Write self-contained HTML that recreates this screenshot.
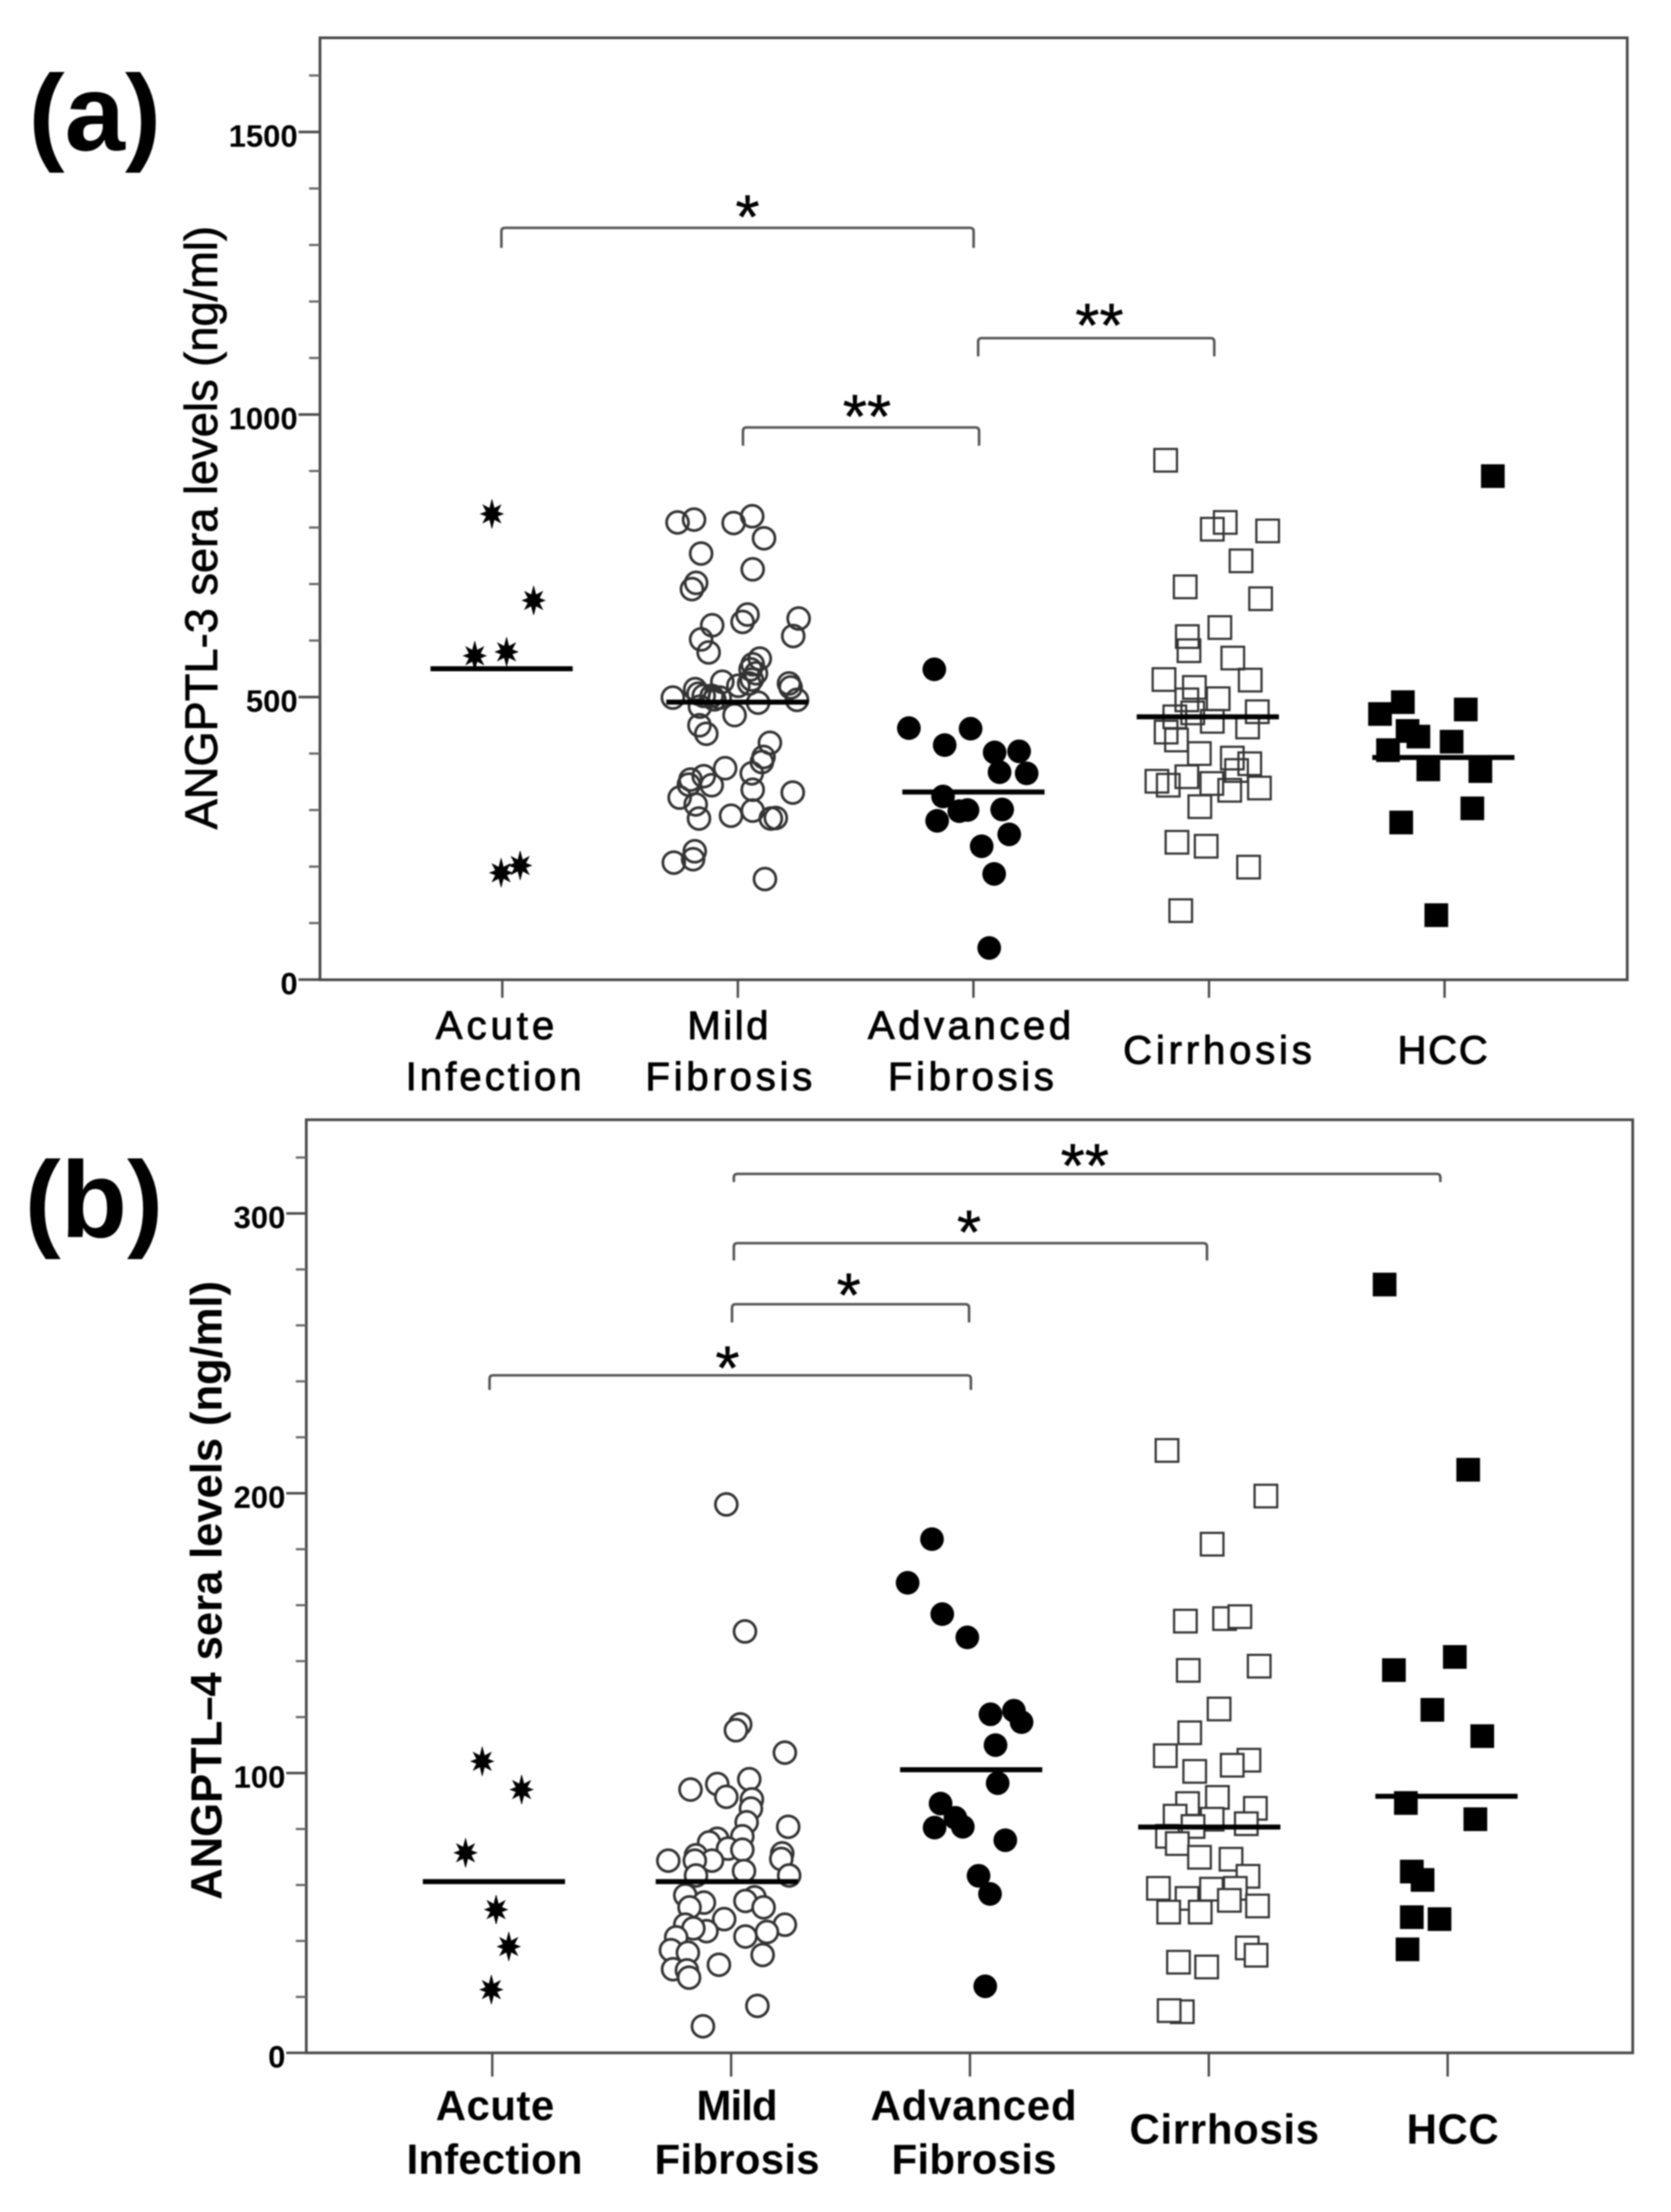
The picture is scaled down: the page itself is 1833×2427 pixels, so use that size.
<!DOCTYPE html>
<html lang="en">
<head>
<meta charset="utf-8">
<title>ANGPTL-3 and ANGPTL-4 sera levels</title>
<style>
html,body{margin:0;padding:0;background:#fff;width:1833px;height:2427px;overflow:hidden}
svg{display:block;filter:blur(0.8px)}
text{font-family:"Liberation Sans",Arial,sans-serif;fill:#000}
.frame{fill:none;stroke:#4a4a4a;stroke-width:3}
.br{fill:none;stroke:#555;stroke-width:2.8}
.cat-a{font-size:44px;text-anchor:start;stroke:#000;stroke-width:1}
.cat-b{font-size:46px;font-weight:bold;text-anchor:start}
.sig{font-size:68px;text-anchor:middle;stroke:#000;stroke-width:.5}
.panel{font-size:119px;font-weight:bold;text-anchor:middle}
</style>
</head>
<body>
<svg id="chart" xmlns="http://www.w3.org/2000/svg" width="1833" height="2427" viewBox="0 0 1833 2427">
  <rect x="0" y="0" width="1833" height="2427" fill="#fff"/>

  <!-- Panel a static -->
  <text class="panel" x="104" y="165">(a)</text>
  <rect class="frame" x="351" y="41.5" width="1434" height="1033.5"/>
  <text transform="translate(238,579) rotate(-90)" text-anchor="middle" font-size="49.6" stroke="#000" stroke-width=".8" textLength="662" lengthAdjust="spacing">ANGPTL-3 sera levels (ng/ml)</text>
  <g>
    <text class="cat-a" x="478" y="1140" textLength="130" lengthAdjust="spacing">Acute</text>
    <text class="cat-a" x="445" y="1196" textLength="193" lengthAdjust="spacing">Infection</text>
    <text class="cat-a" x="754" y="1140" textLength="89" lengthAdjust="spacing">Mild</text>
    <text class="cat-a" x="708" y="1196" textLength="183" lengthAdjust="spacing">Fibrosis</text>
    <text class="cat-a" x="952" y="1140" textLength="223" lengthAdjust="spacing">Advanced</text>
    <text class="cat-a" x="974" y="1196" textLength="182" lengthAdjust="spacing">Fibrosis</text>
    <text class="cat-a" x="1232" y="1167" textLength="207" lengthAdjust="spacing">Cirrhosis</text>
    <text class="cat-a" x="1533" y="1167" textLength="99" lengthAdjust="spacing">HCC</text>
  </g>
  <g>
    <path class="br" d="M550 272V254Q550 250 554 250H1064Q1068 250 1068 254V272"/>
    <text class="sig" x="820" y="261">*</text>
    <path class="br" d="M815 489V473Q815 469 819 469H1070Q1074 469 1074 473V489"/>
    <text class="sig" x="951" y="480">**</text>
    <path class="br" d="M1073 391V375Q1073 371 1077 371H1328Q1332 371 1332 375V391"/>
    <text class="sig" x="1206" y="380">**</text>
  </g>

  <!-- Panel b static -->
  <text class="panel" x="103" y="1357">(b)</text>
  <rect class="frame" x="336" y="1228.6" width="1455" height="1023.8"/>
  <text transform="translate(243,1745) rotate(-90)" text-anchor="middle" font-size="48" font-weight="bold" textLength="679" lengthAdjust="spacing">ANGPTL–4 sera levels (ng/ml)</text>
  <g>
    <text class="cat-b" x="478" y="2326" textLength="130" lengthAdjust="spacing">Acute</text>
    <text class="cat-b" x="446" y="2385" textLength="193" lengthAdjust="spacing">Infection</text>
    <text class="cat-b" x="764" y="2326" textLength="89" lengthAdjust="spacing">Mild</text>
    <text class="cat-b" x="718" y="2385" textLength="181" lengthAdjust="spacing">Fibrosis</text>
    <text class="cat-b" x="955" y="2326" textLength="226" lengthAdjust="spacing">Advanced</text>
    <text class="cat-b" x="978" y="2385" textLength="181" lengthAdjust="spacing">Fibrosis</text>
    <text class="cat-b" x="1239" y="2352" textLength="208" lengthAdjust="spacing">Cirrhosis</text>
    <text class="cat-b" x="1543" y="2352" textLength="101" lengthAdjust="spacing">HCC</text>
  </g>
  <g>
    <path class="br" d="M805 1297V1292Q805 1288 809 1288H1576Q1580 1288 1580 1292V1297"/>
    <text class="sig" x="1190" y="1302">**</text>
    <path class="br" d="M805 1383V1368Q805 1364 809 1364H1320Q1324 1364 1324 1368V1383"/>
    <text class="sig" x="1063" y="1375">*</text>
    <path class="br" d="M803 1451V1435Q803 1431 807 1431H1059Q1063 1431 1063 1435V1451"/>
    <text class="sig" x="931" y="1444">*</text>
    <path class="br" d="M537 1525V1513Q537 1509 541 1509H1061Q1065 1509 1065 1513V1525"/>
    <text class="sig" x="798" y="1524">*</text>
  </g>
</svg>

<script>
// Shared
const categories = ['acute-infection', 'mild-fibrosis', 'advanced-fibrosis', 'cirrhosis', 'hcc'];
const markerKinds = ['star', 'open-circle', 'filled-circle', 'open-square', 'filled-square'];

// Panel (a) ANGPTL-3, ng/ml
const tickLabelsA = [0, 500, 1000, 1500];
const minorTicksA = [100, 200, 300, 400, 600, 700, 800, 900, 1100, 1200, 1300, 1400, 1600];
const meansA = [550, 491, 332, 465, 393];
// Horizontal spread of every point, as % of category spacing
const meanShiftA = [-0.3, -0.2, 0, -0.5, -0.5];
const acuteA = [824, 671, 580, 573, 202, 189];
const acuteJitterA = [-4.4, 13.3, 1.8, -11.7, 7.6, -0.5];
const mildA = [809, 814, 808, 820, 781, 754, 726, 702, 691, 627, 646, 633, 639, 608, 602, 579, 568, 558, 549, 542, 531, 524, 524, 517, 527, 520, 514, 506, 502, 499, 502, 499, 496, 495, 490, 483, 468, 450, 435, 419, 394, 385, 374, 354, 360, 345, 344, 365, 336, 331, 322, 310, 285, 290, 299, 286, 285, 227, 213, 207, 178];
const mildJitterA = [-25.6, -18.6, -1.8, 6.1, 11.1, -15.6, 6.3, -17.7, -19.5, -10.9, 4.1, 2.0, 25.8, 23.5, -15.6, -12.4, 9.3, 6.3, 5.4, 7.7, 5.9, 4.8, 21.7, 22.4, -6.6, 0.2, -18.1, -16.7, -11.1, -7.7, -14.5, -27.6, -10, 25.1, 8.6, -16.1, -1.4, -16.3, -13.4, 13.6, 10.9, 10.2, -5.4, -20.1, -14.5, -20.8, -11.1, 5.9, 6.3, 23.3, -24.7, -17.9, -16.5, -2.9, 6.3, 16.1, 14, -18.3, -19, -27.2, 11.5];
const advancedA = [549, 445, 444, 415, 402, 404, 367, 365, 324, 300, 298, 301, 281, 257, 236, 187, 56];
const advancedJitterA = [-16.6, -27.4, -1.2, -12.2, 9.0, 19.4, 11.1, 22.6, -12.9, -2.5, -6, 12.2, -15.4, 15.2, 3.5, 8.8, 6.7];
const cirrhosisA = [919, 809, 797, 794, 741, 695, 674, 623, 607, 582, 569, 531, 530, 517, 495, 497, 465, 472, 474, 457, 447, 438, 424, 400, 392, 382, 370, 351, 344, 359, 347, 335, 339, 306, 243, 236, 199, 122];
const cirrhosisJitterA = [-18.4, 6.9, 1.4, 24.9, 13.6, -10.1, 21.9, 4.6, -9.2, -8.5, 10.1, -19.1, 17.5, -6.2, -9.4, 3.9, -14.5, -6.9, 20.5, 1.4, 16.4, -18.2, -13.8, -4.1, 9.9, 17.3, 11.7, -22.1, -17.3, -9.4, 1.2, 8.8, 21.4, -3.9, -13.6, -1.2, 16.8, -12];
const hccA = [891, 491, 470, 478, 440, 430, 421, 406, 372, 369, 303, 278, 114];
const hccJitterA = [20.5, -17.7, -27.4, 9, -15.7, -11.1, 3, -24, -6.9, 15.2, 11.8, -18.4, -3.5];

// Panel (b) ANGPTL-4, ng/ml
const tickLabelsB = [0, 100, 200, 300];
const minorTicksB = [20, 40, 60, 80, 120, 140, 160, 180, 220, 240, 260, 280, 320];
const meansB = [61.2, 61.2, 101.2, 80.7, 91.7];
const meanShiftB = [0.7, -1.8, 0.5, 0.2, -0.5];
const acuteB = [104.2, 94.1, 71.5, 51.2, 38, 22.6];
const acuteJitterB = [-4.2, 12.3, -11.2, 1.6, 6.9, -0.4];
const mildB = [196, 150.6, 117.4, 115.3, 107.3, 97.8, 94.1, 96.1, 91.5, 90.6, 87.3, 82.4, 80.8, 77.4, 76.5, 75.2, 73, 72.6, 70.6, 68.7, 68.7, 68.7, 71.3, 69.3, 65, 63.4, 63.4, 56.3, 53.7, 55.6, 54.3, 52, 52, 47.8, 45.8, 45.8, 43.5, 44.5, 43.2, 41.6, 41.3, 36.7, 35.8, 35, 31.5, 29.9, 29.5, 26.9, 16.8, 9.5];
const mildJitterB = [-2, 5.8, 3.8, 2, 22.5, 7.6, -17, -5.8, -2, 8.7, 8.3, 6.5, 23.9, 4.7, -5.8, -9.2, -1.3, 4.7, -14.7, -8, -26.3, -15.2, 21.4, 21, 5.4, -14.7, 24.3, -19.2, -11.4, 9.8, 6, 13.6, -17.4, -2.9, -19.2, 22.5, -10.3, -15.8, 15, 6, -23, -25.2, -18.1, 13.2, -5.1, -24.3, -18.5, -17.6, 11, -11.8];
const advancedB = [183.6, 168, 156.8, 148.5, 121, 122.3, 118.2, 110, 96.4, 89.1, 84, 80.8, 80.5, 76, 63.3, 56.8, 23.8];
const advancedJitterB = [-15.9, -26.1, -11.6, -1.1, 8.6, 18.4, 21.6, 10.7, 11.6, -12.3, -6.1, -3, -14.8, 14.8, 3.6, 8.4, 6.4];
const cirrhosisB = [215.3, 199, 181.8, 154.3, 155.2, 155.9, 136.7, 138.2, 122.9, 114.4, 106.2, 104.6, 102.8, 100.6, 91.3, 89.1, 87.4, 84.6, 83.5, 80.9, 81.9, 77.4, 74.8, 69.9, 69.2, 63.1, 58.8, 58.8, 58.5, 55.2, 54.5, 52.5, 50.3, 50.3, 37.5, 34.9, 32.4, 30.7, 14.7, 15.1];
const cirrhosisJitterB = [-17.5, 23.9, 1.4, -9.8, 6.6, 13, -8.6, 21.1, 4.3, -8, -18.2, 16.8, 9.8, -5.9, 3.6, -8.9, 19.5, -14.1, 1.4, -6.6, 15.7, -17.3, -13.2, -3.9, 9.3, 16.4, 11.1, -21.1, 1.1, -9.1, 8.6, 20.4, -16.8, -3.6, 16.1, 19.8, -12.7, -0.9, -11.1, -16.6];
const hccB = [274.6, 208.4, 141.5, 136.8, 122.6, 113.2, 89.3, 83.5, 64.8, 61.8, 48.5, 47.8, 37];
const hccJitterB = [-26.4, 8.6, 3, -22.5, -6.4, 14.5, -17.5, 11.6, -15, -10.5, -15, -3.4, -16.8];

const NS = 'http://www.w3.org/2000/svg';
const chart = document.getElementById('chart');

function make(parent, tag, attrs) {
  const el = document.createElementNS(NS, tag);
  for (const k in attrs) el.setAttribute(k, attrs[k]);
  parent.appendChild(el);
  return el;
}

function drawMarker(group, kind, cx, cy, panelOpaque) {
  let el;
  if (kind === 'star') {
    const pts = [];
    for (let i = 0; i < 16; i++) {
      const a = Math.PI * i / 8;
      const r = i % 2 === 0 ? (i % 8 === 0 ? 16 : 14) : 6.6;
      pts.push((cx + Math.sin(a) * r * (i % 8 === 4 ? 0.9 : 1)).toFixed(1) + ',' + (cy - Math.cos(a) * r).toFixed(1));
    }
    el = make(group, 'polygon', { points: pts.join(' '), fill: '#000', stroke: '#000', 'stroke-width': 0.6 });
  } else if (kind === 'open-circle') {
    el = make(group, 'circle', { cx: cx, cy: cy, r: 12, fill: panelOpaque ? '#fff' : 'none', stroke: '#333', 'stroke-width': 3 });
  } else if (kind === 'filled-circle') {
    el = make(group, 'circle', { cx: cx, cy: cy, r: 13, fill: '#000' });
  } else if (kind === 'open-square') {
    el = make(group, 'rect', { x: cx - 12.4, y: cy - 12.4, width: 24.8, height: 24.8, fill: panelOpaque ? '#fff' : 'none', stroke: '#333', 'stroke-width': 2.4 });
  } else {
    el = make(group, 'rect', { x: cx - 13, y: cy - 13, width: 26, height: 26, fill: '#000' });
  }
  return el;
}

function drawPanel(p) {
  const xScale = (cat, jitter) => p.x0 + (cat + jitter / 100) * p.spacing;
  const yScale = v => p.y0 - v * p.pxPerUnit;

  const axis = make(chart, 'g', {});
  
  

  p.ticks.forEach(v => {
    const y = yScale(v);
    const t = make(axis, 'line', { x1: p.left - p.majorLen, x2: p.left, y1: y, y2: y, stroke: '#4a4a4a', 'stroke-width': 2.8 });
    
    
    const lab = make(axis, 'text', { x: p.left - p.majorLen - 1, y: y + 16, 'text-anchor': 'end', 'font-size': 34, 'font-weight': 'bold' });
    lab.textContent = v;
    
    
  });
  p.minor.forEach(v => {
    const y = yScale(v);
    const t = make(axis, 'line', { x1: p.left - p.minorLen, x2: p.left, y1: y, y2: y, stroke: '#666', 'stroke-width': 2.4 });
    
    
  });
  categories.forEach((c, i) => {
    const x = xScale(i, 0);
    const t = make(axis, 'line', { x1: x, x2: x, y1: p.y0, y2: p.y0 + p.xTickLen, stroke: '#4a4a4a', 'stroke-width': 2.6 });
    
    
  });

  categories.forEach((c, i) => {
    const g = make(chart, 'g', {});
    
    
    p.values[i].forEach((v, k) => {
      const m = drawMarker(g, markerKinds[i], xScale(i, p.jitter[i][k]), yScale(v), p.opaque);
      
      
    });
  });

  categories.forEach((c, i) => {
    const cx = xScale(i, p.meanShift[i]);
    const y = yScale(p.means[i]);
    const ln = make(chart, 'line', { x1: cx - 78, x2: cx + 78, y1: y, y2: y, stroke: '#000', 'stroke-width': 5.5 });
    
    
  });
}

drawPanel({
  id: 'a', x0: 551, spacing: 258.4, y0: 1074.8, pxPerUnit: 0.62, left: 351,
  majorLen: 23.5, minorLen: 12, xTickLen: 20, opaque: false,
  ticks: tickLabelsA, minor: minorTicksA, means: meansA, meanShift: meanShiftA,
  values: [acuteA, mildA, advancedA, cirrhosisA, hccA],
  jitter: [acuteJitterA, mildJitterA, advancedJitterA, cirrhosisJitterA, hccJitterA]
});
drawPanel({
  id: 'b', x0: 540, spacing: 262, y0: 2252.4, pxPerUnit: 3.07, left: 336,
  majorLen: 22, minorLen: 11.5, xTickLen: 26, opaque: true,
  ticks: tickLabelsB, minor: minorTicksB, means: meansB, meanShift: meanShiftB,
  values: [acuteB, mildB, advancedB, cirrhosisB, hccB],
  jitter: [acuteJitterB, mildJitterB, advancedJitterB, cirrhosisJitterB, hccJitterB]
});
</script>
</body>
</html>
